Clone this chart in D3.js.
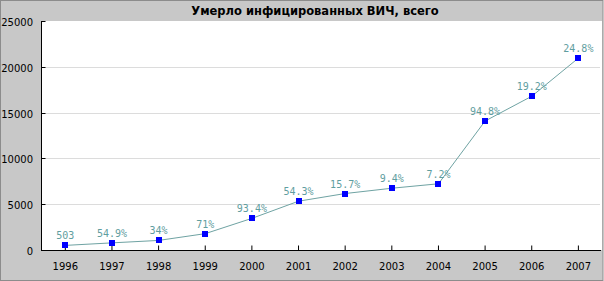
<!DOCTYPE html>
<html>
<head>
<meta charset="utf-8">
<script src="https://cdn.jsdelivr.net/npm/d3@7"></script>
<style>
  body { margin: 0; background: #fff; }
  svg { display: block; }
</style>
</head>
<body>
<svg width="604" height="281"></svg>
<script>
// data
var years = ["1996","1997","1998","1999","2000","2001","2002","2003","2004","2005","2006","2007"];
var deaths = [503, 779, 1044, 1785, 3453, 5328, 6164, 6743, 7229, 14082, 16786, 20949];
var pointLabels = ["503","54.9%","34%","71%","93.4%","54.3%","15.7%","9.4%","7.2%","94.8%","19.2%","24.8%"];
var yTicks = [0, 5000, 10000, 15000, 20000, 25000];
var title = "Умерло инфицированных ВИЧ, всего";

var width = 604, height = 281;
var svg = d3.select("svg");

// outer background + border
svg.append("rect")
  .attr("x", 0.5).attr("y", 0.5)
  .attr("width", width - 1.5).attr("height", height - 1)
  .attr("fill", "#c8c8c8")
  .attr("stroke", "#8c8c8c");

// plot box (careful: "top" is taken by window.top)
var plotLeft = 41, plotRight = 602, plotTop = 21, plotBottom = 250;

var x = d3.scaleBand().domain(years).range([42, 601.7]);
var y = d3.scaleLinear().domain([0, 25000]).range([plotBottom, plotTop]);

// plot area
svg.append("rect")
  .attr("x", plotLeft).attr("y", plotTop)
  .attr("width", plotRight - plotLeft).attr("height", plotBottom - plotTop)
  .attr("fill", "#fff");

// grid
svg.append("g")
  .selectAll("line")
  .data(yTicks.filter(function(d){ return d > 0 && d < 25000; }))
  .enter().append("line")
  .attr("x1", plotLeft).attr("x2", plotRight - 2)
  .attr("y1", function(d){ return Math.round(y(d)) + 0.5; })
  .attr("y2", function(d){ return Math.round(y(d)) + 0.5; })
  .attr("stroke", "#dcdcdc");

// y axis (ticks point inward)
var yAxis = svg.append("g")
  .attr("transform", "translate(" + (plotLeft + 0.5) + ",0)")
  .call(d3.axisRight(y).tickValues(yTicks).tickSize(4).tickFormat(""));
yAxis.select(".domain").attr("stroke", "#000").attr("d", "M0," + plotTop + "V" + plotBottom);
yAxis.selectAll(".tick line").attr("stroke", "#000");
yAxis.selectAll(".tick").attr("transform", function(d){ return "translate(0," + (Math.round(y(d)) + 0.5) + ")"; });

svg.append("g")
  .selectAll("text")
  .data(yTicks)
  .enter().append("text")
  .attr("x", 33)
  .attr("y", function(d){ return y(d) + 5; })
  .attr("text-anchor", "end")
  .attr("font-family", "DejaVu Sans")
  .attr("font-size", "10px")
  .attr("fill", "#000")
  .text(function(d){ return d; });

// x axis (ticks point up, inside)
var xAxis = svg.append("g")
  .attr("transform", "translate(0," + (plotBottom + 0.5) + ")")
  .call(d3.axisTop(x).tickSize(5).tickFormat(""));
xAxis.select(".domain").attr("stroke", "#000").attr("d", "M" + plotLeft + ",0H" + (plotRight - 1));
xAxis.selectAll(".tick line").attr("stroke", "#000");

svg.append("g")
  .selectAll("text")
  .data(years)
  .enter().append("text")
  .attr("x", function(d){ return x(d) + x.bandwidth() / 2; })
  .attr("y", 270)
  .attr("text-anchor", "middle")
  .attr("font-family", "DejaVu Sans")
  .attr("font-size", "10px")
  .attr("fill", "#000")
  .text(function(d){ return d; });

// line
var line = d3.line()
  .x(function(d, i){ return x(years[i]) + x.bandwidth() / 2; })
  .y(function(d){ return y(d); });

svg.append("path")
  .datum(deaths)
  .attr("d", line)
  .attr("fill", "none")
  .attr("stroke", "#6fa3a3")
  .attr("stroke-width", 1);

// point labels
svg.append("g")
  .selectAll("text")
  .data(deaths)
  .enter().append("text")
  .attr("x", function(d, i){ return x(years[i]) + x.bandwidth() / 2; })
  .attr("y", function(d){ return y(d) - 6; })
  .attr("text-anchor", "middle")
  .attr("font-family", "DejaVu Sans Mono")
  .attr("font-size", "10px")
  .attr("fill", "#5f9ea0")
  .text(function(d, i){ return pointLabels[i]; });

// markers
svg.append("g")
  .selectAll("rect")
  .data(deaths)
  .enter().append("rect")
  .attr("x", function(d, i){ return Math.round(x(years[i]) + x.bandwidth() / 2) - 3; })
  .attr("y", function(d){ return Math.round(y(d)) - 3; })
  .attr("width", 6).attr("height", 6)
  .attr("fill", "#0000ff");

svg.append("text")
  .attr("x", 315)
  .attr("y", 15)
  .attr("text-anchor", "middle")
  .attr("font-family", "DejaVu Sans")
  .attr("font-weight", "bold")
  .attr("font-size", "11.5px")
  .attr("fill", "#000")
  .text(title);
</script>
</body>
</html>
